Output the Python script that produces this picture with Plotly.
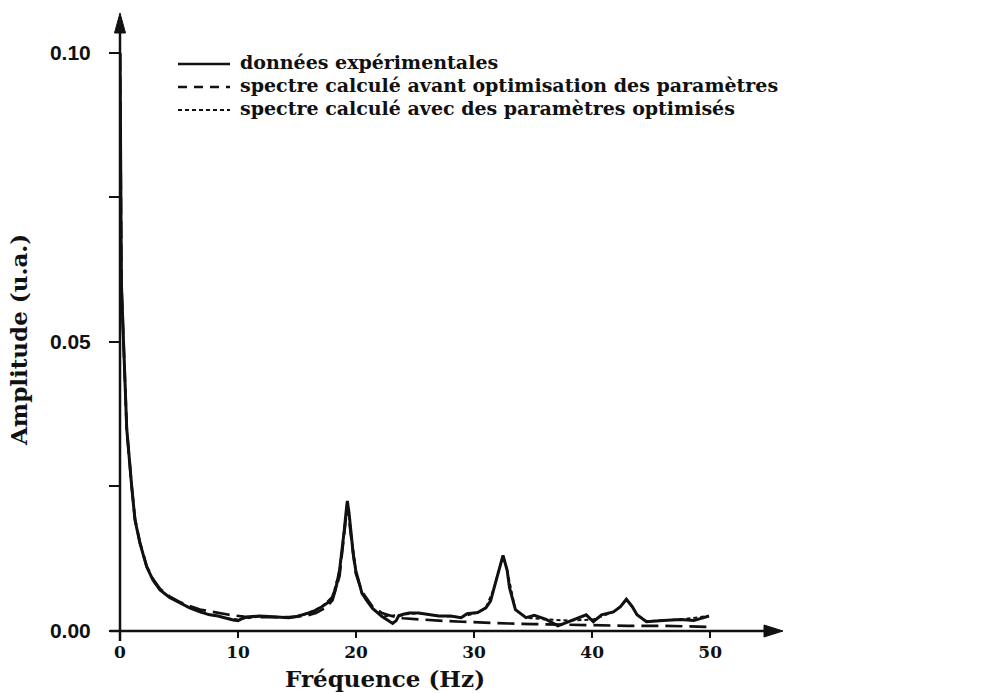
import plotly.graph_objects as go

# ---- spectra (frequency in Hz, amplitude in arbitrary units) ----
freq_exp = [0.0, 0.05, 0.12, 0.3, 0.57, 0.99, 1.27, 1.69, 2.26, 2.8, 3.39, 4.2, 5.08, 5.9,
            6.78, 7.6, 8.3, 9.0, 9.58, 10.0, 10.5, 11.2, 11.8, 12.6, 13.4, 14.3, 15.0, 15.7,
            16.4, 17.1, 17.6, 18.0, 18.3, 18.6, 18.8, 19.0, 19.15, 19.26, 19.4, 19.55, 19.75,
            19.97, 20.5, 21.0, 21.4,
            22.2, 22.7, 23.1, 23.4, 23.6, 24.0, 24.5, 25.3, 26.2, 27.0, 28.0, 28.9, 29.4,
            30.3, 31.0, 31.4, 31.7, 32.1, 32.45, 32.8, 33.0, 33.5, 34.4, 35.1, 36.1, 37.1,
            38.1, 39.0, 39.5, 40.1, 40.8, 41.8, 42.4, 42.9, 43.4, 43.8, 44.6, 46.0, 47.5,
            48.6, 49.9]
amp_exp = [0.100, 0.075, 0.060, 0.050, 0.035, 0.025, 0.0192, 0.0152, 0.0111, 0.0088, 0.0071,
           0.0058, 0.0048, 0.0040, 0.0033, 0.0028, 0.0026, 0.0022, 0.0019, 0.0018, 0.0023,
           0.0025, 0.0026, 0.0025, 0.0024, 0.0023, 0.0025, 0.0029, 0.0034, 0.0042, 0.0049,
           0.0059, 0.0075, 0.0105, 0.0135, 0.0174, 0.0205, 0.0225, 0.0205, 0.0174, 0.0135,
           0.0105, 0.0065, 0.0050, 0.0039,
           0.0025, 0.0018, 0.0013, 0.0018, 0.0026, 0.0029, 0.0031, 0.0031, 0.0028, 0.0026,
           0.0026, 0.0023, 0.0030, 0.0032, 0.0040, 0.0052, 0.0075, 0.0105, 0.0131, 0.0105,
           0.0075, 0.0037, 0.0023, 0.0027, 0.0020, 0.0009, 0.0017, 0.0025, 0.0028, 0.0016,
           0.0028, 0.0033, 0.0042, 0.0055, 0.0042, 0.0028, 0.0016, 0.0018, 0.0020, 0.0018,
           0.0026]

freq_init = [0.0, 0.05, 0.12, 0.3, 0.57, 0.99, 1.27, 1.69, 2.26, 2.8, 3.39, 4.2, 5.08, 5.9,
             6.78, 7.6, 8.3, 9.0, 9.58, 10.5, 11.8, 13.0, 14.3, 15.7, 16.6, 17.4, 18.0, 18.6,
             19.0, 19.26, 19.55, 19.97, 20.5, 21.4, 22.2, 23.0, 24.0, 25.3, 27.0, 29.0, 31.0,
             33.0, 35.0, 37.0, 40.0, 43.0, 46.0, 50.0]
amp_init = [0.100, 0.075, 0.060, 0.050, 0.035, 0.025, 0.0194, 0.0153, 0.0112, 0.0090, 0.0073,
            0.0060, 0.0050, 0.0043, 0.0037, 0.0034, 0.0031, 0.0029, 0.0027, 0.0025, 0.0024,
            0.0024, 0.0024, 0.0026, 0.0031, 0.0040, 0.0053, 0.0095, 0.0165, 0.0218, 0.0168,
            0.0100, 0.0068, 0.0042, 0.0031, 0.0026, 0.0022, 0.0020, 0.0018, 0.0016, 0.0014,
            0.0013, 0.0012, 0.0011, 0.0010, 0.0009, 0.0009, 0.0007]

freq_opt = [0.0, 0.05, 0.12, 0.3, 0.57, 0.99, 1.27, 1.69, 2.26, 2.8, 3.39, 4.2, 5.08, 5.9,
            6.78, 7.6, 8.3, 9.0, 10.0, 11.8, 14.3, 15.7, 17.1, 18.0, 18.6, 19.0, 19.26, 19.55,
            19.97, 20.5, 21.4, 22.2, 23.5, 25.3, 27.0, 28.9, 30.3, 31.0, 31.7, 32.1, 32.45,
            32.8, 33.5, 34.4, 36.1, 38.1, 40.1, 41.8, 42.4, 42.9, 43.4, 43.8, 44.6, 47.5,
            49.9]
amp_opt = [0.100, 0.075, 0.060, 0.050, 0.035, 0.025, 0.0192, 0.0152, 0.0111, 0.0088, 0.0071,
           0.0058, 0.0048, 0.0040, 0.0033, 0.0028, 0.0026, 0.0022, 0.0020, 0.0025, 0.0023,
           0.0029, 0.0042, 0.0059, 0.0105, 0.0174, 0.0225, 0.0174, 0.0105, 0.0065, 0.0039,
           0.0025, 0.0027, 0.0031, 0.0026, 0.0024, 0.0032, 0.0040, 0.0075, 0.0105, 0.0131,
           0.0105, 0.0037, 0.0023, 0.0020, 0.0018, 0.0020, 0.0033, 0.0042, 0.0055, 0.0042,
           0.0028, 0.0017, 0.0020, 0.0026]

legend_labels = ["données expérimentales",
                 "spectre calculé avant optimisation des paramètres",
                 "spectre calculé avec des paramètres optimisés"]

x_ticks = [0, 10, 20, 30, 40, 50]
y_ticks = [0.0, 0.025, 0.05, 0.075, 0.10]
y_ticktext = ["0.00", "", "0.05", "", "0.10"]

# ---- geometry (pixels) ----
W, H = 999, 693
ML, MR, MT, MB = 120, 218, 15, 62
PW, PH = W - ML - MR, H - MT - MB
X_MAX = 56.0
Y_MAX = 0.10657


def px(xpix):
    return (xpix - ML) / PW


def py(ypix):
    return (H - MB - ypix) / PH


INK = "#111111"

fig = go.Figure()
fig.add_trace(go.Scatter(x=freq_init, y=amp_init, mode="lines",
                         line=dict(color=INK, width=2.7, dash="17px,7px"),
                         name=legend_labels[1]))
fig.add_trace(go.Scatter(x=freq_opt, y=amp_opt, mode="lines",
                         line=dict(color=INK, width=2, dash="4px,3px"),
                         name=legend_labels[2]))
fig.add_trace(go.Scatter(x=freq_exp, y=amp_exp, mode="lines",
                         line=dict(color=INK, width=3),
                         name=legend_labels[0]))

shapes = []
# axis lines with arrowheads
shapes.append(dict(type="line", xref="paper", yref="paper",
                   x0=px(110), x1=px(770), y0=0, y1=0,
                   line=dict(color=INK, width=2.5)))
shapes.append(dict(type="path", xref="paper", yref="paper",
                   path=f"M {px(783)} {py(631)} L {px(764)} {py(625)} L {px(764)} {py(637)} Z",
                   fillcolor=INK, line=dict(color=INK, width=1)))
shapes.append(dict(type="line", xref="paper", yref="paper",
                   x0=0, x1=0, y0=py(641), y1=py(30),
                   line=dict(color=INK, width=2.5)))
shapes.append(dict(type="path", xref="paper", yref="paper",
                   path=f"M {px(120)} {py(13)} L {px(114.5)} {py(33)} L {px(125.5)} {py(33)} Z",
                   fillcolor=INK, line=dict(color=INK, width=1)))

# hand-drawn legend key
rows_y = [62, 85, 108]
dashes = ["solid", "9px,7px", "4px,3px"]
widths = [2.4, 2.4, 2.0]
annotations = []
for yy, lab, dsh, lw in zip(rows_y, legend_labels, dashes, widths):
    shapes.append(dict(type="line", xref="paper", yref="paper",
                       x0=px(178), x1=px(230), y0=py(yy + 2), y1=py(yy + 2),
                       line=dict(color=INK, width=lw, dash=dsh)))
    annotations.append(dict(x=px(238), y=py(yy), xref="paper", yref="paper",
                            text=lab, showarrow=False, xanchor="left", yanchor="middle",
                            font=dict(family="DejaVu Serif", size=19, color=INK, weight="bold")))

# axis titles
annotations.append(dict(x=px(385), y=py(678), xref="paper", yref="paper",
                        text="Fréquence (Hz)", showarrow=False,
                        xanchor="center", yanchor="middle",
                        font=dict(family="DejaVu Serif", size=23, color=INK, weight="bold")))
annotations.append(dict(x=px(18), y=py(340), xref="paper", yref="paper",
                        text="Amplitude (u.a.)", showarrow=False, textangle=-90,
                        xanchor="center", yanchor="middle",
                        font=dict(family="DejaVu Serif", size=23, color=INK, weight="bold")))

fig.update_layout(
    width=W, height=H,
    margin=dict(l=ML, r=MR, t=MT, b=MB, pad=0),
    paper_bgcolor="white", plot_bgcolor="white",
    showlegend=False,
    shapes=shapes,
    annotations=annotations,
    xaxis=dict(range=[0, X_MAX], tickvals=x_ticks, ticktext=[str(v) for v in x_ticks],
               ticks="outside", ticklen=6, tickwidth=2, tickcolor=INK,
               showline=False, showgrid=False, zeroline=False, ticklabelstandoff=0,
               tickfont=dict(family="DejaVu Serif", size=17, color=INK, weight="bold")),
    yaxis=dict(range=[0, Y_MAX], tickvals=y_ticks, ticktext=y_ticktext,
               ticks="outside", ticklen=10, tickwidth=2, tickcolor=INK,
               showline=False, showgrid=False, zeroline=False, ticklabelstandoff=14,
               tickfont=dict(family="Liberation Sans", size=21, color=INK, weight="bold")),
)

fig.write_html("out.html")
